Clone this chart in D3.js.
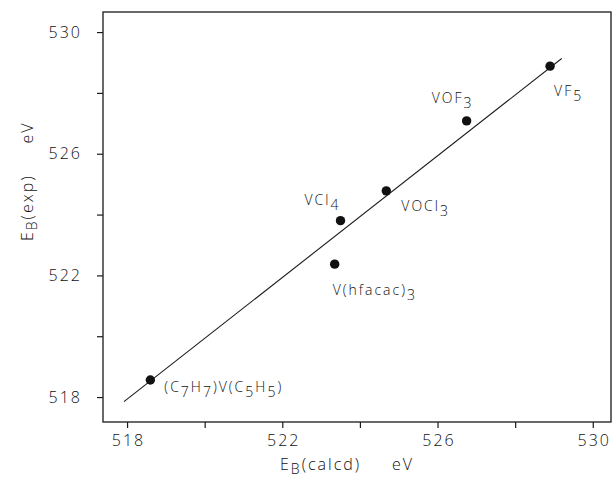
<!DOCTYPE html>
<html>
<head>
<meta charset="utf-8">
<script src="https://cdn.jsdelivr.net/npm/d3@7"></script>
<style>
  body { margin: 0; background: #fff; }
  svg text { font-family: "Open Sans", "DejaVu Sans", sans-serif; font-weight: 300; fill: #111; }
</style>
</head>
<body>
<svg id="chart" width="613" height="479"></svg>
<script>
// ── Data ──
const compounds = ["(C7H7)V(C5H5)", "V(hfacac)3", "VCl4", "VOCl3", "VOF3", "VF5"];
const calcd = [518.6, 523.35, 523.5, 524.68, 526.75, 528.9];
const expt = [518.56, 522.37, 523.8, 524.78, 527.08, 528.88];
// label pieces: [text, subscript?]
const labelParts = [
  [["(C", 0], ["7", 1], ["H", 0], ["7", 1], [")V(C", 0], ["5", 1], ["H", 0], ["5", 1], [")", 0]],
  [["V(hfacac)", 0], ["3", 1]],
  [["VCl", 0], ["4", 1]],
  [["VOCl", 0], ["3", 1]],
  [["VOF", 0], ["3", 1]],
  [["VF", 0], ["5", 1]]
];
const fitLine = [[517.92, 517.85], [529.2, 529.13]];
const tickValues = [518, 520, 522, 524, 526, 528, 530];
const labeledTicks = [518, 522, 526, 530];
const xTitle = [["E", 0], ["B", 1], ["(calcd)     eV", 0]];
const yTitle = [["E", 0], ["B", 1], ["(exp)     eV", 0]];

// label offsets from the point, in px
const labelOffsets = [[14, 12], [-2, 31], [-36, -16], [15, 20], [-35, -18], [4, 30]];

const svg = d3.select("#chart");
const frame = { left: 103, top: 12, right: 611, bottom: 422 };

const x = d3.scaleLinear().domain([517.38, 530.47]).range([frame.left, frame.right]);
const y = d3.scaleLinear().domain([517.18, 530.66]).range([frame.bottom, frame.top]);

const ink = "#1a1a1a";

// ── Frame ──
svg.append("rect")
  .attr("x", frame.left).attr("y", frame.top)
  .attr("width", frame.right - frame.left).attr("height", frame.bottom - frame.top)
  .attr("fill", "none").attr("stroke", ink).attr("stroke-width", 1.3);

// ── Axes ──
const fmt = (d) => (labeledTicks.includes(d) ? d : "");

const xAxis = svg.append("g")
  .attr("transform", `translate(0,${frame.bottom})`)
  .call(d3.axisBottom(x).tickValues(tickValues).tickFormat(fmt).tickSize(6).tickPadding(7));

const yAxis = svg.append("g")
  .attr("transform", `translate(${frame.left},0)`)
  .call(d3.axisLeft(y).tickValues(tickValues).tickFormat(fmt).tickSize(6).tickPadding(15));

[xAxis, yAxis].forEach((ax) => {
  ax.select(".domain").remove();
  ax.selectAll(".tick line").attr("stroke", ink).attr("stroke-width", 1.2);
  ax.selectAll(".tick text")
    .style("font-size", "16px")
    .style("letter-spacing", "2px")
    .attr("fill", "#111");
});
xAxis.selectAll(".tick text").attr("dx", "1px");

// ── Rich text helper ──
function richText(sel, parts, size, subSize, subShift) {
  let shifted = false;
  parts.forEach(([t, sub]) => {
    const ts = sel.append("tspan").text(t);
    if (sub && !shifted) { ts.attr("dy", subShift); shifted = true; }
    else if (!sub && shifted) { ts.attr("dy", -subShift); shifted = false; }
    if (sub) ts.style("font-size", subSize + "px");
  });
  return sel.style("font-size", size + "px");
}

// ── Axis titles ──
richText(svg.append("text")
  .attr("x", 280).attr("y", 470)
  .style("letter-spacing", "2px")
  .style("white-space", "pre"), xTitle, 16, 14, 4);

richText(svg.append("text")
  .attr("transform", "translate(33,241) rotate(-90)")
  .style("letter-spacing", "2px")
  .style("white-space", "pre"), yTitle, 16, 14, 4);

// ── Fit line ──
svg.append("line")
  .attr("x1", x(fitLine[0][0])).attr("y1", y(fitLine[0][1]))
  .attr("x2", x(fitLine[1][0])).attr("y2", y(fitLine[1][1]))
  .attr("stroke", ink).attr("stroke-width", 1.1);

// ── Points ──
svg.selectAll("circle.pt")
  .data(compounds)
  .join("circle")
  .attr("class", "pt")
  .attr("cx", (d, i) => x(calcd[i]))
  .attr("cy", (d, i) => y(expt[i]))
  .attr("r", 4.7)
  .attr("fill", "#111");

// ── Point labels ──
compounds.forEach((name, i) => {
  const t = svg.append("text")
    .attr("x", x(calcd[i]) + labelOffsets[i][0])
    .attr("y", y(expt[i]) + labelOffsets[i][1])
    .style("letter-spacing", "2px");
  richText(t, labelParts[i], 14, 14, 5);
});
</script>
</body>
</html>
